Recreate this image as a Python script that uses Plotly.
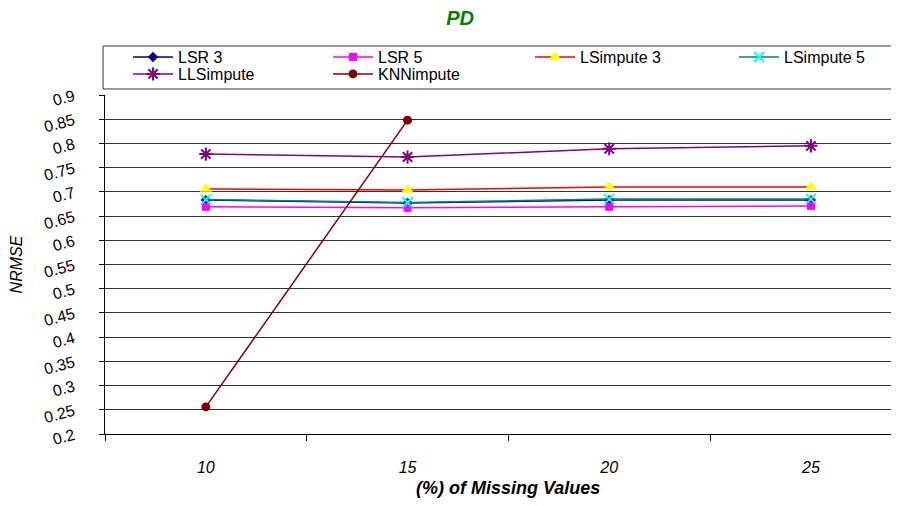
import plotly.graph_objects as go

categories = ["10", "15", "20", "25"]
lsr3 = [0.683, 0.677, 0.683, 0.683]
lsr5 = [0.669, 0.667, 0.669, 0.671]
lsimpute3 = [0.706, 0.704, 0.710, 0.710]
lsimpute5 = [0.684, 0.678, 0.685, 0.685]
llsimpute = [0.778, 0.772, 0.789, 0.795]
knnimpute = [0.256, 0.848, None, None]
y_ticks = [0.2, 0.25, 0.3, 0.35, 0.4, 0.45, 0.5, 0.55, 0.6, 0.65, 0.7, 0.75, 0.8, 0.85, 0.9]

series = [
    ("LSR 3", lsr3, "#000080", "#000080", "diamond", 8),
    ("LSR 5", lsr5, "#FF00FF", "#FF00FF", "square", 8),
    ("LSimpute 3", lsimpute3, "#FF0000", "#FFFF00", "triangle-up", 11),
    ("LSimpute 5", lsimpute5, "#008080", "#00FFFF", "x-thin", 10),
    ("LLSimpute", llsimpute, "#800080", "#800080", "asterisk", 11),
    ("KNNimpute", knnimpute, "#800000", "#800000", "circle", 9),
]
# legend slot for each series: (x fraction of plot, y fraction)
legend_slots = [(0.0293, 1.112), (0.2837, 1.112), (0.5407, 1.112), (0.8003, 1.112),
                (0.0293, 1.062), (0.2837, 1.062)]

fig = go.Figure()
legend_layouts = {}
for i, ((name, vals, lc, mc, sym, sz), (lx, ly)) in enumerate(zip(series, legend_slots)):
    marker = dict(symbol=sym, size=sz, color=mc)
    if sym in ("x-thin", "asterisk"):
        marker["line"] = dict(color=mc, width=2)
    lg = "legend" if i == 0 else f"legend{i + 1}"
    fig.add_trace(go.Scatter(
        x=categories, y=vals, name=name, mode="lines+markers",
        line=dict(color=lc, width=1.5), marker=marker, connectgaps=False,
        legend=lg,
    ))
    legend_layouts[lg] = dict(orientation="h", x=lx, xanchor="left", y=ly, yanchor="middle",
                              borderwidth=0, bgcolor="rgba(0,0,0,0)",
                              font=dict(size=16), itemwidth=40)

fig.update_layout(
    width=883, height=490,
    paper_bgcolor="white", plot_bgcolor="white",
    margin=dict(l=97, r=0, t=87, b=64, autoexpand=False),
    font=dict(family="Arial, Liberation Sans, sans-serif", size=16, color="black"),
    title=dict(text="<b><i>PD</i></b>", x=0.512, xanchor="center", y=0.98, yanchor="middle",
               font=dict(size=20, color="#008000")),
    showlegend=True,
    shapes=[dict(type="rect", xref="paper", yref="paper",
                 x0=-0.0025, x1=1.01, y0=1.0177, y1=1.1445,
                 line=dict(color="#333", width=1), fillcolor="rgba(0,0,0,0)", layer="below")],
    annotations=[dict(text="<b><i>(%) of Missing Values</i></b>", xref="paper", yref="paper",
                      x=0.513, y=0, xanchor="center", yanchor="middle", yshift=-54,
                      showarrow=False, font=dict(size=18, color="black"))],
    **legend_layouts,
)
fig.update_xaxes(
    type="category", range=[-0.5, 3.397], automargin=False,
    tickvals=categories, ticktext=[f"<i>{c}</i>" for c in categories],
    showline=True, linecolor="black", linewidth=1,
    ticks="outside", tickson="boundaries", ticklen=6, tickcolor="black",
    tickfont=dict(size=16), ticklabelstandoff=19,
    showgrid=False, zeroline=False,
)
fig.update_yaxes(
    range=[0.2, 0.9], tickvals=y_ticks, ticktext=[f"{v:g}" for v in y_ticks],
    tickangle=-15, automargin=False,
    showline=True, linecolor="black", linewidth=1,
    ticks="outside", ticklen=5, tickcolor="black",
    tickfont=dict(size=16), ticklabelstandoff=22,
    showgrid=True, gridcolor="#333333", gridwidth=1,
    title=dict(text="<i>NRMSE</i>", font=dict(size=16), standoff=16),
    zeroline=False,
)

fig.write_html("out.html")
